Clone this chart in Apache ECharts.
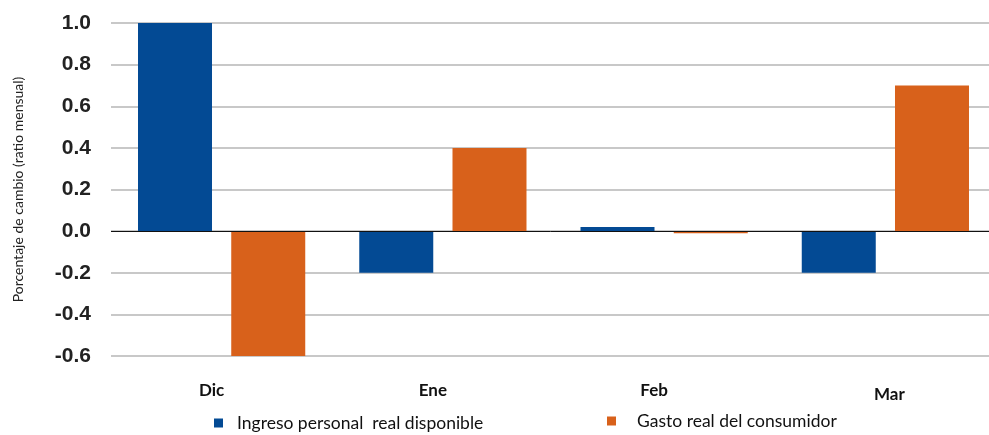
<!DOCTYPE html>
<html>
<head>
<meta charset="utf-8">
<script src="https://cdn.jsdelivr.net/npm/echarts@6/dist/echarts.min.js"></script>
<style>
  html, body { margin: 0; padding: 0; background: #fff; }
  #chart { width: 989px; height: 435px; }
</style>
</head>
<body>
<div id="chart"></div>
<script>
// months
const categories = ['Dic', 'Ene', 'Feb', 'Mar']
// monthly % change
const ingresoData = [1.0, -0.2, 0.02, -0.2]
const gastoData = [-0.6, 0.4, -0.01, 0.7]
const seriesNames = ['Ingreso personal  real disponible', 'Gasto real del consumidor']
const yMin = -0.6
const yMax = 1.0
const yStep = 0.2

const chart = echarts.init(document.getElementById('chart'))

const labelFont = {
  fontFamily: 'Lato',
  fontWeight: 'bold',
  fontSize: 17,
  color: '#111'
}

chart.setOption({
  animation: false,
  color: ['#034a94', '#d8611b'],
  grid: {
    left: 111,
    right: -7,
    top: 23,
    bottom: 79,
    outerBoundsMode: 'none'
  },
  legend: [{
    data: [seriesNames[0]],
    left: 214,
    top: 414,
    padding: 0,
    icon: 'rect',
    itemWidth: 9,
    itemHeight: 9,
    textStyle: { fontFamily: 'Lato', fontSize: 17.5, color: '#111', padding: [3, 0, 0, 9] }
  }, {
    data: [seriesNames[1]],
    left: 607,
    top: 412,
    padding: 0,
    icon: 'rect',
    itemWidth: 9,
    itemHeight: 9,
    textStyle: { fontFamily: 'Lato', fontSize: 17.5, color: '#111', padding: [18, 0, 0, 16] }
  }],
  xAxis: {
    type: 'category',
    data: categories,
    axisLine: { show: false },
    axisTick: { show: false },
    axisLabel: Object.assign({
      margin: 26,
      padding: [0, 20, 0, 0],
      formatter: v => v === 'Mar' ? '{low|' + v + '}' : v,
      rich: {
        low: Object.assign({ padding: [4, 0, 0, 28] }, labelFont)
      }
    }, labelFont)
  },
  yAxis: {
    type: 'value',
    min: yMin,
    max: yMax,
    interval: yStep,
    name: 'Porcentaje de cambio (ratio mensual)',
    nameLocation: 'middle',
    nameGap: 86,
    nameTextStyle: { fontFamily: 'Lato', fontSize: 14, color: '#222' },
    axisLine: { show: false },
    axisTick: { show: false },
    axisLabel: {
      margin: 20,
      fontFamily: 'Liberation Sans',
      fontWeight: 'bold',
      fontSize: 21,
      color: '#222',
      formatter: v => v.toFixed(1)
    },
    splitLine: {
      lineStyle: { color: '#c8c8c8', width: 2 }
    }
  },
  series: [{
    name: seriesNames[0],
    type: 'bar',
    data: ingresoData,
    barWidth: 74,
    barGap: '26%',
    markLine: {
      silent: true,
      symbol: 'none',
      label: { show: false },
      lineStyle: { color: '#111', width: 1, type: 'solid' },
      data: [{ yAxis: 0 }]
    }
  }, {
    name: seriesNames[1],
    type: 'bar',
    data: gastoData,
    barWidth: 74,
    barGap: '26%'
  }]
})
</script>
</body>
</html>
